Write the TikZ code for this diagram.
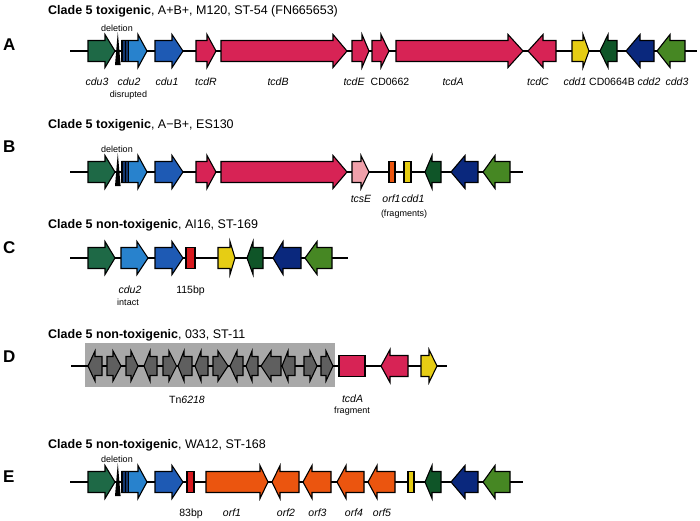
\documentclass[tikz,border=0pt]{standalone}
\usepackage{fontspec}
\setmainfont{Liberation Sans}
\definecolor{cduthree}{RGB}{30,105,70}
\definecolor{cdutwo}{RGB}{40,130,205}
\definecolor{cdudark}{RGB}{20,55,110}
\definecolor{cduone}{RGB}{30,90,180}
\definecolor{tcd}{RGB}{215,35,85}
\definecolor{tcse}{RGB}{240,160,170}
\definecolor{cddone}{RGB}{230,205,20}
\definecolor{cdsmall}{RGB}{15,85,40}
\definecolor{cddtwo}{RGB}{10,40,125}
\definecolor{cddthree}{RGB}{70,135,35}
\definecolor{orfor}{RGB}{235,85,15}
\definecolor{bpred}{RGB}{215,25,30}
\definecolor{tngene}{RGB}{95,95,95}
\definecolor{tnbox}{RGB}{168,168,168}
\def\bh{10.5}
\def\hh{16.5}
% right-pointing gene: start, head base, tip, y, colour
\newcommand{\genR}[5]{\filldraw[gene,fill=#5] (#1,#4-\bh) -- (#2,#4-\bh) -- (#2,#4-\hh) -- (#3,#4) -- (#2,#4+\hh) -- (#2,#4+\bh) -- (#1,#4+\bh) -- cycle;}
% left-pointing gene: tip, head base, end, y, colour
\newcommand{\genL}[5]{\filldraw[gene,fill=#5] (#3,#4-\bh) -- (#2,#4-\bh) -- (#2,#4-\hh) -- (#1,#4) -- (#2,#4+\hh) -- (#2,#4+\bh) -- (#3,#4+\bh) -- cycle;}
% fragment box: x1, x2, y, colour
\newcommand{\genF}[4]{\filldraw[gene,fill=#4] (#1,#3-\bh) rectangle (#2,#3+\bh);}
% deletion wedge at x, backbone y
\newcommand{\delwedge}[2]{\fill[black] (#1,#2-19) -- (#1+2.8,#2+14) -- (#1-2.8,#2+14) -- cycle;}
% disrupted cdu2 (start 122) at y
\newcommand{\cdudisr}[1]{\genR{122}{138}{147}{#1}{cdutwo}
  \filldraw[gene,fill=cdudark] (122,#1-\bh) rectangle (128.5,#1+\bh);
  \draw[gene] (125.3,#1-\bh) -- (125.3,#1+\bh);}
\tikzset{
  gene/.style={draw=black, line width=1.1pt, line join=miter},
  backbone/.style={line width=2pt},
  title/.style={anchor=base west, inner sep=0, font=\fontsize{12.5}{14}\selectfont},
  panel/.style={anchor=base west, inner sep=0, font=\fontsize{17}{18}\selectfont\bfseries},
  glabel/.style={anchor=base, inner sep=0, font=\fontsize{10.5}{12}\selectfont\itshape},
  nlabel/.style={anchor=base, inner sep=0, font=\fontsize{10.5}{12}\selectfont},
  slabel/.style={anchor=base, inner sep=0, font=\fontsize{9}{10}\selectfont},
}
\begin{document}
\begin{tikzpicture}[x=1pt,y=-1pt]
\useasboundingbox (0,0) rectangle (700,520);
\fill[white] (0,0) rectangle (700,520);

% ================= A =================
\node[panel] (pA) at (3,50) {A};
\node[title] (tA) at (48,14) {\textbf{Clade 5 toxigenic}, A+B+, M120, ST-54 (FN665653)};
\coordinate (As) at (70,51); \coordinate (Ae) at (697,51);
\draw[backbone] (As) -- (Ae);
\genR{88}{105}{115}{51}{cduthree}
\delwedge{117.8}{51}
\node[slabel] (dA) at (117,31) {deletion};
\cdudisr{51}
\genR{155}{172}{183}{51}{cduone}
\genR{196}{207}{216}{51}{tcd}
\genR{221}{333}{347}{51}{tcd}
\genR{352}{362}{369}{51}{tcd}
\genR{372}{381}{389}{51}{tcd}
\genR{396}{508}{523}{51}{tcd}
\genL{528}{543}{556}{51}{tcd}
\genR{572}{583}{589}{51}{cddone}
\genL{600}{608}{617}{51}{cdsmall}
\genL{626}{640}{654}{51}{cddtwo}
\genL{657}{670}{685}{51}{cddthree}
\node[glabel] (lA1) at (97,85) {cdu3};
\node[glabel] (lA2) at (129,85) {cdu2};
\node[slabel] (lA2b) at (128.5,97) {disrupted};
\node[glabel] (lA3) at (167,85) {cdu1};
\node[glabel] (lA4) at (206,85) {tcdR};
\node[glabel] (lA5) at (278,85) {tcdB};
\node[glabel] (lA6) at (354,85) {tcdE};
\node[nlabel] (lA7) at (390,85) {CD0662};
\node[glabel] (lA8) at (453,85) {tcdA};
\node[glabel] (lA9) at (538,85) {tcdC};
\node[glabel] (lA10) at (575,85) {cdd1};
\node[nlabel] (lA11) at (612,85) {CD0664B};
\node[glabel] (lA12) at (649,85) {cdd2};
\node[glabel] (lA13) at (677,85) {cdd3};

% ================= B =================
\node[panel] (pB) at (3,152) {B};
\node[title] (tB) at (48,128) {\textbf{Clade 5 toxigenic}, A−B+, ES130};
\coordinate (Bs) at (70,172); \coordinate (Be) at (523,172);
\draw[backbone] (Bs) -- (Be);
\genR{88}{105}{115}{172}{cduthree}
\delwedge{117.8}{172}
\node[slabel] (dB) at (117,152) {deletion};
\cdudisr{172}
\genR{155}{172}{183}{172}{cduone}
\genR{196}{207}{216}{172}{tcd}
\genR{221}{333}{347}{172}{tcd}
\genR{352}{361}{369}{172}{tcse}
\genF{389}{395}{172}{orfor}
\genF{404}{411}{172}{cddone}
\genL{425}{432}{441}{172}{cdsmall}
\genL{451}{465}{478}{172}{cddtwo}
\genL{483}{495}{510}{172}{cddthree}
\node[glabel] (lB1) at (361,202) {tcsE};
\node[glabel] (lB2) at (391.5,202) {orf1};
\node[glabel] (lB3) at (413,202) {cdd1};
\node[slabel] (lB4) at (404,216) {(fragments)};

% ================= C =================
\node[panel] (pC) at (3,253) {C};
\node[title] (tC) at (48,228) {\textbf{Clade 5 non-toxigenic}, AI16, ST-169};
\coordinate (Cs) at (70,258); \coordinate (Ce) at (348,258);
\draw[backbone] (Cs) -- (Ce);
\genR{88}{105}{115}{258}{cduthree}
\genR{121}{137}{148}{258}{cdutwo}
\genR{155}{172}{183}{258}{cduone}
\genF{186}{195}{258}{bpred}
\genR{218}{230}{235}{258}{cddone}
\genL{247}{253}{263}{258}{cdsmall}
\genL{273}{283}{301}{258}{cddtwo}
\genL{305}{317}{332}{258}{cddthree}
\node[glabel] (lC1) at (130,293) {cdu2};
\node[slabel] (lC2) at (128,305) {intact};
\node[nlabel] (lC3) at (190.5,293) {115bp};

% ================= D =================
\node[panel] (pD) at (3,362) {D};
\node[title] (tD) at (48,338) {\textbf{Clade 5 non-toxigenic}, 033, ST-11};
\fill[tnbox] (85,343) rectangle (335,387);
\coordinate (Ds) at (71,366); \coordinate (De) at (447,366);
\draw[backbone] (Ds) -- (De);
\begin{scope}
\def\bh{9.5}\def\hh{15}
\genL{88}{95}{102}{366}{tngene}
\genR{107}{113}{121}{366}{tngene}
\genR{126}{131}{138}{366}{tngene}
\genL{144}{150}{157}{366}{tngene}
\genR{163}{169}{176.5}{366}{tngene}
\genL{178}{184}{192}{366}{tngene}
\genL{195}{201}{208}{366}{tngene}
\genR{213}{218}{228}{366}{tngene}
\genL{230}{237}{243}{366}{tngene}
\genL{246}{252}{258}{366}{tngene}
\genL{261}{271}{281}{366}{tngene}
\genL{282}{288}{295}{366}{tngene}
\genR{304}{310}{317}{366}{tngene}
\genR{321}{326}{333}{366}{tngene}
\end{scope}
\genF{339}{365}{366}{tcd}
\genL{381}{390}{408}{366}{tcd}
\genR{421}{429}{437}{366}{cddone}
\node[nlabel] (lD1) at (187,403) {Tn\textit{6218}};
\node[glabel] (lD2) at (352.5,402) {tcdA};
\node[slabel] (lD3) at (352,413) {fragment};

% ================= E =================
\node[panel] (pE) at (3,482) {E};
\node[title] (tE) at (48,448) {\textbf{Clade 5 non-toxigenic}, WA12, ST-168};
\coordinate (Es) at (70,482); \coordinate (Ee) at (523,482);
\draw[backbone] (Es) -- (Ee);
\genR{88}{105}{115}{482}{cduthree}
\delwedge{117.8}{482}
\node[slabel] (dE) at (117,462) {deletion};
\cdudisr{482}
\genR{155}{172}{183}{482}{cduone}
\genF{187}{194}{482}{bpred}
\genR{206}{260}{268}{482}{orfor}
\genL{272}{280}{299}{482}{orfor}
\genL{303}{312}{331}{482}{orfor}
\genL{337}{346}{364}{482}{orfor}
\genL{368}{377}{395}{482}{orfor}
\genF{408}{414}{482}{cddone}
\genL{425}{432}{441}{482}{cdsmall}
\genL{451}{465}{478}{482}{cddtwo}
\genL{483}{495}{510}{482}{cddthree}
\node[nlabel] (lE1) at (191,516) {83bp};
\node[glabel] (lE2) at (232,516) {orf1};
\node[glabel] (lE3) at (286,516) {orf2};
\node[glabel] (lE4) at (317.5,516) {orf3};
\node[glabel] (lE5) at (354,516) {orf4};
\node[glabel] (lE6) at (382,516) {orf5};
\end{tikzpicture}
\end{document}
